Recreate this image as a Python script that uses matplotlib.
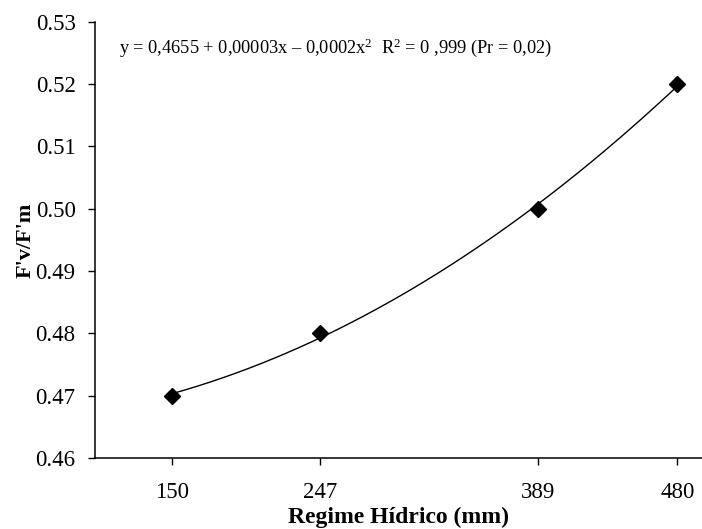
import numpy as np
import matplotlib.pyplot as plt

# dados
regime = [150, 247, 389, 480]
fvfm = [0.47, 0.48, 0.50, 0.52]
yticks = [0.46, 0.47, 0.48, 0.49, 0.50, 0.51, 0.52, 0.53]
ytick_labels = ["0.46", "0.47", "0.48", "0.49", "0.50", "0.51", "0.52", "0.53"]

plt.rcParams['font.family'] = 'Liberation Serif'
plt.rcParams['mathtext.fontset'] = 'custom'
plt.rcParams['mathtext.rm'] = 'Liberation Serif'
plt.rcParams['mathtext.it'] = 'Liberation Serif:italic'

fig = plt.figure(figsize=(7.02, 5.29), dpi=100)
ax = fig.add_axes([0.1353, 0.1342, 0.8647, 0.8248])

# curva ajustada (polinômio de 2º grau)
coef = np.polyfit(regime, fvfm, 2)
xs = np.linspace(regime[0], regime[-1], 200)
ax.plot(xs, np.polyval(coef, xs), color='black', lw=1.0)
ax.plot(regime, fvfm, linestyle='none', marker='D', markersize=8.5, color='black')

ax.set_xlim(100, 496)
ax.set_ylim(0.46, 0.53)
ax.set_xticks(regime)
ax.set_xticklabels([str(v) for v in regime])
ax.set_yticks(yticks)
ax.set_yticklabels(ytick_labels)

for s in ['top', 'right']:
    ax.spines[s].set_visible(False)
for s in ['left', 'bottom']:
    ax.spines[s].set_linewidth(1.1)
ax.tick_params(direction='out', length=5, width=1.0, labelsize=16.5)
ax.tick_params(axis='y', pad=9)
ax.tick_params(axis='x', pad=12)

ax.set_xlabel("Regime Hídrico (mm)", fontsize=17, fontweight='bold', labelpad=3)
ax.set_ylabel("F'v/F'm", fontsize=16, fontweight='bold', labelpad=0)

ax.text(115.7, 0.5258,
        r"y = 0,4655 + 0,00003x – 0,0002x$^{2}$  R$^{2}$ = 0 ,999 (Pr = 0,02)",
        fontsize=13.2, va='center', ha='left')

fig.savefig("out.png", dpi=100)
